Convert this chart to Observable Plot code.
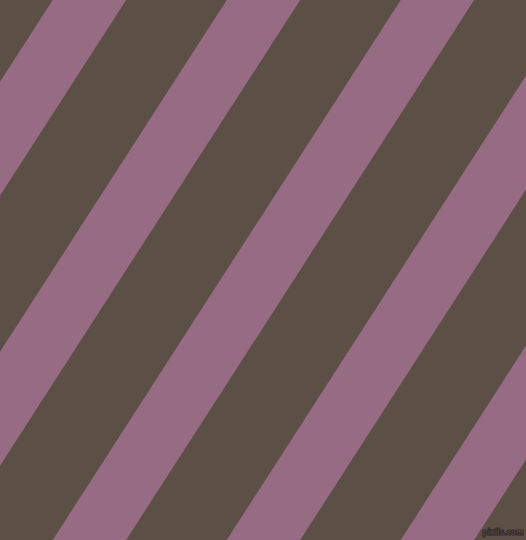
<!DOCTYPE html>
<html>
<head>
<meta charset="utf-8">
<script src="https://cdn.jsdelivr.net/npm/d3@7"></script>
<script src="https://cdn.jsdelivr.net/npm/@observablehq/plot@0.6"></script>
<style>
  html, body { margin: 0; padding: 0; overflow: hidden; background: #5b4f46; }
  svg { display: block; }
</style>
</head>
<body>
<div id="chart"></div>
<script>
// Stripe data
const stripeStarts = [-121.3, 52.7, 226.7, 400.7, 574.7, 748.7]; // x of each purple band's left edge at the top
const stripeWidth = 73.5;     // horizontal width of each purple band
const edgeYs = [0, 540];      // top and bottom rows
const bottomShift = 348;      // leftward shift of each band from top to bottom
const watermark = ["pixlis.com"];

const rows = [];
stripeStarts.forEach((s, i) => {
  edgeYs.forEach((y, j) => {
    const x1 = s - (j === 0 ? 0 : bottomShift);
    rows.push({stripe: i, y, x1, x2: x1 + stripeWidth});
  });
});

const chart = Plot.plot({
  width: 526,
  height: 540,
  margin: 0,
  style: {background: "#5b4f46"},
  x: {domain: [0, 526], axis: null},
  y: {domain: [0, 540], range: [0, 540], axis: null},
  marks: [
    Plot.areaX(rows, {y: "y", x1: "x1", x2: "x2", z: "stripe", fill: "#966b83", clip: true}),
    Plot.text(watermark, {
      frameAnchor: "bottom-right", dx: -3, dy: -6,
      fill: "#4d4343", stroke: "#2b2424", strokeWidth: 1.2, paintOrder: "stroke",
      fontSize: 8, fontWeight: "bold", fontFamily: "DejaVu Sans Condensed"
    })
  ]
});
document.getElementById("chart").append(chart);
</script>
</body>
</html>
